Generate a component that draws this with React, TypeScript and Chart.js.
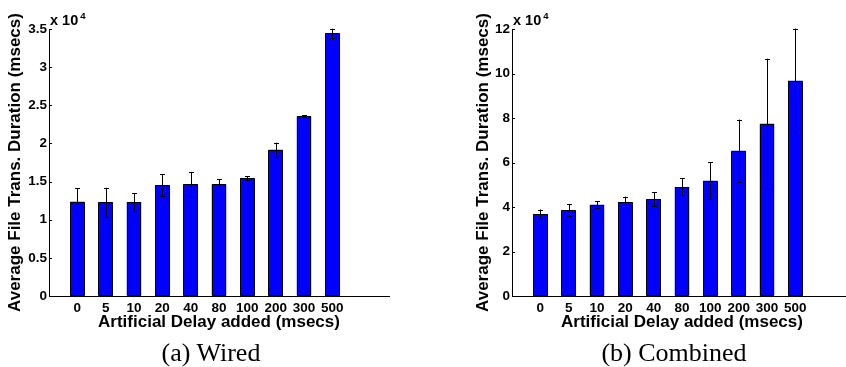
import React, { useEffect, useRef } from "react";
import { Chart, registerables } from "chart.js";

Chart.register(...registerables);

const categories = ["0", "5", "10", "20", "40", "80", "100", "200", "300", "500"];
const wiredMeans = [12360, 12280, 12320, 14550, 14640, 14640, 15430, 19180, 23550, 34430];
const wiredErrors = [1800, 1900, 1140, 1440, 1635, 635, 260, 920, 150, 610];
const combinedMeans = [36850, 38500, 41050, 42250, 43600, 49000, 51800, 65300, 77450, 96770];
const combinedErrors = [2020, 2625, 1500, 2400, 3150, 3825, 8225, 14000, 29200, 23450];

const xTitle = "Artificial Delay added (msecs)";
const yTitle = "Average File Trans. Duration (msecs)";
const captions = ["(a) Wired", "(b) Combined"];

const FONT = "Liberation Sans";

const errorBarPlugin = {
  id: "errorBars",
  afterDatasetsDraw(chart: any, _args: any, opts: any) {
    const { ctx, scales } = chart;
    const xs = scales.x;
    const ys = scales.y;
    const errs: number[] = opts.errors || [];
    const means: number[] = opts.means || [];
    ctx.save();
    ctx.strokeStyle = "#000";
    ctx.lineWidth = 1;
    // crisp bar outlines from the library's bar elements
    const meta = chart.getDatasetMeta(0);
    ctx.beginPath();
    meta.data.forEach((bar: any) => {
      const l = Math.round(bar.x - bar.width / 2) + 0.5;
      const r = Math.round(bar.x + bar.width / 2) - 0.5;
      const t = Math.round(bar.y) + 0.5;
      const b = Math.round(bar.base) - 0.5;
      ctx.rect(l, t, r - l, b - t);
    });
    ctx.stroke();
    means.forEach((m, i) => {
      const px = Math.round(xs.getPixelForValue(i + 1)) + 0.5;
      const top = ys.getPixelForValue(m + errs[i]);
      const bot = ys.getPixelForValue(m - errs[i]);
      ctx.beginPath();
      ctx.moveTo(px, top);
      ctx.lineTo(px, bot);
      ctx.moveTo(px - 2.5, Math.round(top) + 0.5);
      ctx.lineTo(px + 2.5, Math.round(top) + 0.5);
      ctx.moveTo(px - 2.5, Math.round(bot) + 0.5);
      ctx.lineTo(px + 2.5, Math.round(bot) + 0.5);
      ctx.stroke();
    });
    ctx.restore();
  },
  afterDraw(chart: any) {
    const { ctx, scales, chartArea } = chart;
    const ys = scales.y;
    ctx.save();
    ctx.strokeStyle = "#000";
    ctx.lineWidth = 1;
    ctx.beginPath();
    ys.ticks.forEach((t: any) => {
      const py = Math.round(ys.getPixelForValue(t.value)) + 0.5;
      ctx.moveTo(chartArea.left, py);
      ctx.lineTo(chartArea.left + 3, py);
    });
    ctx.stroke();
    ctx.fillStyle = "#000";
    ctx.textBaseline = "alphabetic";
    ctx.textAlign = "left";
    ctx.font = `bold 14.5px "${FONT}"`;
    const label = "x 10";
    const lx = chartArea.left + 1;
    const ly = chartArea.top - 4;
    ctx.fillText(label, lx, ly);
    const w = ctx.measureText(label).width;
    ctx.font = `bold 9.5px "${FONT}"`;
    ctx.fillText("4", lx + w + 2, ly - 6.5);
    ctx.restore();
  },
};

type PanelProps = {
  means: number[];
  errors: number[];
  yMax: number;
  yStep: number;
  left: number;
  width: number;
  axisWidth: number;
  yTitlePad: number;
  rightPad: number;
};

function Panel(props: PanelProps) {
  const ref = useRef<HTMLCanvasElement | null>(null);
  useEffect(() => {
    const canvas = ref.current;
    if (!canvas) return;
    const tickFont = { family: FONT, size: 13.5, weight: "bold" as const };
    const titleFont = { family: FONT, size: 17, weight: "bold" as const };
    const chart = new Chart(canvas, {
      type: "bar",
      data: {
        datasets: [
          {
            data: props.means.map((m, i) => ({ x: i + 1, y: m })),
            backgroundColor: "#0000ff",
            borderColor: "#000000",
            borderWidth: 0,
            barPercentage: 0.51,
            categoryPercentage: 1,
          },
        ],
      },
      options: {
        responsive: false,
        maintainAspectRatio: false,
        animation: false,
        layout: { padding: { top: 29, right: props.rightPad, left: 0, bottom: 0 } },
        plugins: {
          legend: { display: false },
          tooltip: { enabled: false },
          errorBars: { means: props.means, errors: props.errors },
        } as any,
        scales: {
          x: {
            type: "linear",
            min: 0,
            max: 12,
            offset: false,
            grid: { display: true, drawOnChartArea: false, drawTicks: false, color: "#000" },
            border: { display: true, color: "#000", width: 1 },
            ticks: {
              stepSize: 1,
              autoSkip: false,
              maxRotation: 0,
              padding: 4,
              color: "#000",
              font: tickFont,
              callback: (v: any) => (v >= 1 && v <= 10 ? categories[v - 1] : ""),
            },
            title: {
              display: true,
              text: xTitle,
              color: "#000",
              font: titleFont,
              padding: { top: 0, bottom: 7 },
            },
            afterFit: (s: any) => {
              s.height = 44;
            },
          },
          y: {
            type: "linear",
            min: 0,
            max: props.yMax,
            grid: { display: true, drawOnChartArea: false, drawTicks: false, color: "#000" },
            border: { display: true, color: "#000", width: 1 },
            ticks: {
              stepSize: props.yStep,
              padding: 2,
              color: "#000",
              font: tickFont,
              callback: (v: any) => String(Number(v) / 10000),
            },
            title: {
              display: true,
              text: yTitle,
              color: "#000",
              font: titleFont,
              padding: { top: props.yTitlePad, bottom: 0 },
            },
            afterFit: (s: any) => {
              s.width = props.axisWidth;
            },
          },
        },
      } as any,
      plugins: [errorBarPlugin],
    });
    return () => chart.destroy();
  }, []);
  return (
    <canvas
      ref={ref}
      width={props.width}
      height={340}
      style={{ position: "absolute", left: props.left, top: 0, width: props.width, height: 340 }}
    />
  );
}

export default function App() {
  const capStyle: React.CSSProperties = {
    position: "absolute",
    top: 340,
    width: 240,
    textAlign: "center",
    fontFamily: '"Liberation Serif", serif',
    fontSize: 26,
    lineHeight: "26px",
    color: "#000",
    whiteSpace: "nowrap",
  };
  return (
    <div
      style={{
        position: "absolute",
        left: 0,
        top: 0,
        width: 846,
        height: 367,
        overflow: "hidden",
        background: "#fff",
      }}
    >
      <Panel
        means={wiredMeans}
        errors={wiredErrors}
        yMax={35000}
        yStep={5000}
        left={0}
        width={420}
        axisWidth={49}
        yTitlePad={5}
        rightPad={31}
      />
      <Panel
        means={combinedMeans}
        errors={combinedErrors}
        yMax={120000}
        yStep={20000}
        left={460}
        width={400}
        axisWidth={52}
        yTitlePad={13}
        rightPad={8}
      />
      <div style={{ ...capStyle, left: 211 - 120 }}>{captions[0]}</div>
      <div style={{ ...capStyle, left: 674 - 120 }}>{captions[1]}</div>
    </div>
  );
}
